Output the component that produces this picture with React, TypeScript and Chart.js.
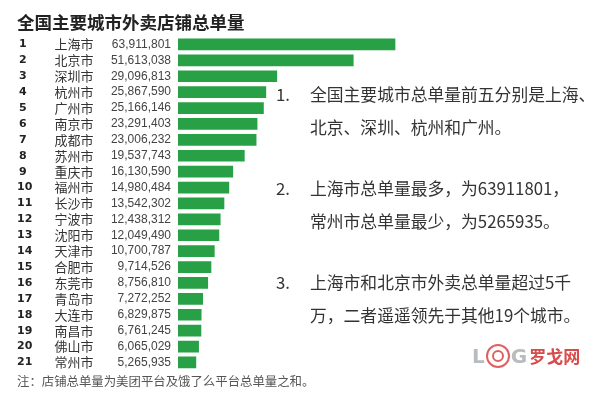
import React, { useEffect, useRef } from "react";
import { Chart, registerables } from "chart.js";

Chart.register(...registerables);

const ranks = ["1","2","3","4","5","6","7","8","9","10","11","12","13","14","15","16","17","18","19","20","21"];
const cities = ["上海市","北京市","深圳市","杭州市","广州市","南京市","成都市","苏州市","重庆市","福州市","长沙市","宁波市","沈阳市","天津市","合肥市","东莞市","青岛市","大连市","南昌市","佛山市","常州市"];
const orders = [63911801, 51613038, 29096813, 25867590, 25166146, 23291403, 23006232, 19537743, 16130590, 14980484, 13542302, 12438312, 12049490, 10700787, 9714526, 8756810, 7272252, 6829875, 6761245, 6065029, 5265935];

const title = "全国主要城市外卖店铺总单量";
const footnote = "注：店铺总单量为美团平台及饿了么平台总单量之和。";
const notes = [
  ["1.", "全国主要城市总单量前五分别是上海、", "北京、深圳、杭州和广州。"],
  ["2.", "上海市总单量最多，为63911801，", "常州市总单量最少，为5265935。"],
  ["3.", "上海市和北京市外卖总单量超过5千", "万，二者遥遥领先于其他19个城市。"],
];

const fmt = (n: number) => n.toLocaleString("en-US");

export default function App() {
  const ref = useRef<HTMLCanvasElement | null>(null);

  useEffect(() => {
    document.body.style.margin = "0";
    const labelPlugin = {
      id: "rowLabels",
      afterDatasetsDraw(chart: any) {
        const ctx = chart.ctx;
        const y = chart.scales.y;
        ctx.save();
        ctx.textBaseline = "middle";
        cities.forEach((c, i) => {
          const py = y.getPixelForValue(i);
          ctx.fillStyle = "#222";
          ctx.font = "bold 11px 'DejaVu Sans', sans-serif";
          ctx.textAlign = "left";
          ctx.fillText(ranks[i], ranks[i].length > 1 ? 17 : 19, py);
          ctx.fillStyle = "#333";
          ctx.font = "13px 'Noto Sans CJK SC', sans-serif";
          ctx.textAlign = "center";
          ctx.fillText(c, 74, py);
          ctx.fillStyle = "#444";
          ctx.font = "12px 'Liberation Sans', Arial, sans-serif";
          ctx.textAlign = "right";
          ctx.fillText(fmt(orders[i]), 171, py);
        });
        ctx.restore();
      },
    };
    const chart = new Chart(ref.current as HTMLCanvasElement, {
      type: "bar",
      data: {
        labels: cities,
        datasets: [
          {
            data: orders,
            backgroundColor: "#28a046",
            borderWidth: 0,
            barThickness: 11,
          },
        ],
      },
      options: {
        indexAxis: "y",
        animation: false,
        responsive: false,
        maintainAspectRatio: false,
        layout: { padding: { left: 178, right: 6, top: 36.5, bottom: 29.6 } },
        plugins: { legend: { display: false }, tooltip: { enabled: false }, title: { display: false } },
        scales: {
          x: { display: false, min: 0, max: 122800000 },
          y: { display: false },
        },
      },
      plugins: [labelPlugin],
    });
    return () => chart.destroy();
  }, []);

  return (
    <div style={{ position: "relative", width: 601, height: 400, background: "#fff", overflow: "hidden" }}>
      <canvas ref={ref} width={601} height={400} style={{ position: "absolute", left: 0, top: 0 }} />
      <div style={{ position: "absolute", left: 17, top: 10, fontFamily: "'Noto Sans CJK SC', sans-serif", fontWeight: 700, fontSize: 17.5, color: "#222", whiteSpace: "nowrap", lineHeight: "24px" }}>
        {title}
      </div>
      {notes.map((n, i) => (
        <div key={i} style={{ position: "absolute", left: 276, top: 78 + i * 94, fontFamily: "'Noto Sans CJK SC', sans-serif", fontSize: 16.8, color: "#333", lineHeight: "33px", whiteSpace: "nowrap" }}>
          <div><span style={{ display: "inline-block", width: 34 }}>{n[0]}</span>{n[1]}</div>
          <div style={{ paddingLeft: 34 }}>{n[2]}</div>
        </div>
      ))}
      <div style={{ position: "absolute", left: 17, top: 372, fontFamily: "'Noto Sans CJK SC', sans-serif", fontSize: 12.4, color: "#555", whiteSpace: "nowrap", lineHeight: "18px" }}>
        {footnote}
      </div>
      <div style={{ position: "absolute", left: 472, top: 343, display: "flex", alignItems: "center", whiteSpace: "nowrap" }}>
        <span style={{ fontFamily: "'DejaVu Sans', sans-serif", fontWeight: 700, fontSize: 20, color: "#b8bcc0" }}>L</span>
        <span style={{ position: "relative", width: 24, height: 24, margin: "0 1px" }}>
          <span style={{ position: "absolute", left: 0, top: 0, width: 20, height: 20, border: "2px solid #e06060", borderRadius: "50%" }} />
          <span style={{ position: "absolute", left: 6, top: 6, width: 8, height: 8, border: "2px solid #e06060", borderRadius: "50%" }} />
        </span>
        <span style={{ fontFamily: "'DejaVu Sans', sans-serif", fontWeight: 700, fontSize: 20, color: "#b8bcc0" }}>G</span>
        <span style={{ fontFamily: "'Noto Sans CJK SC', sans-serif", fontWeight: 700, fontSize: 17, color: "#d94a4a", marginLeft: 2 }}>罗戈网</span>
      </div>
    </div>
  );
}
